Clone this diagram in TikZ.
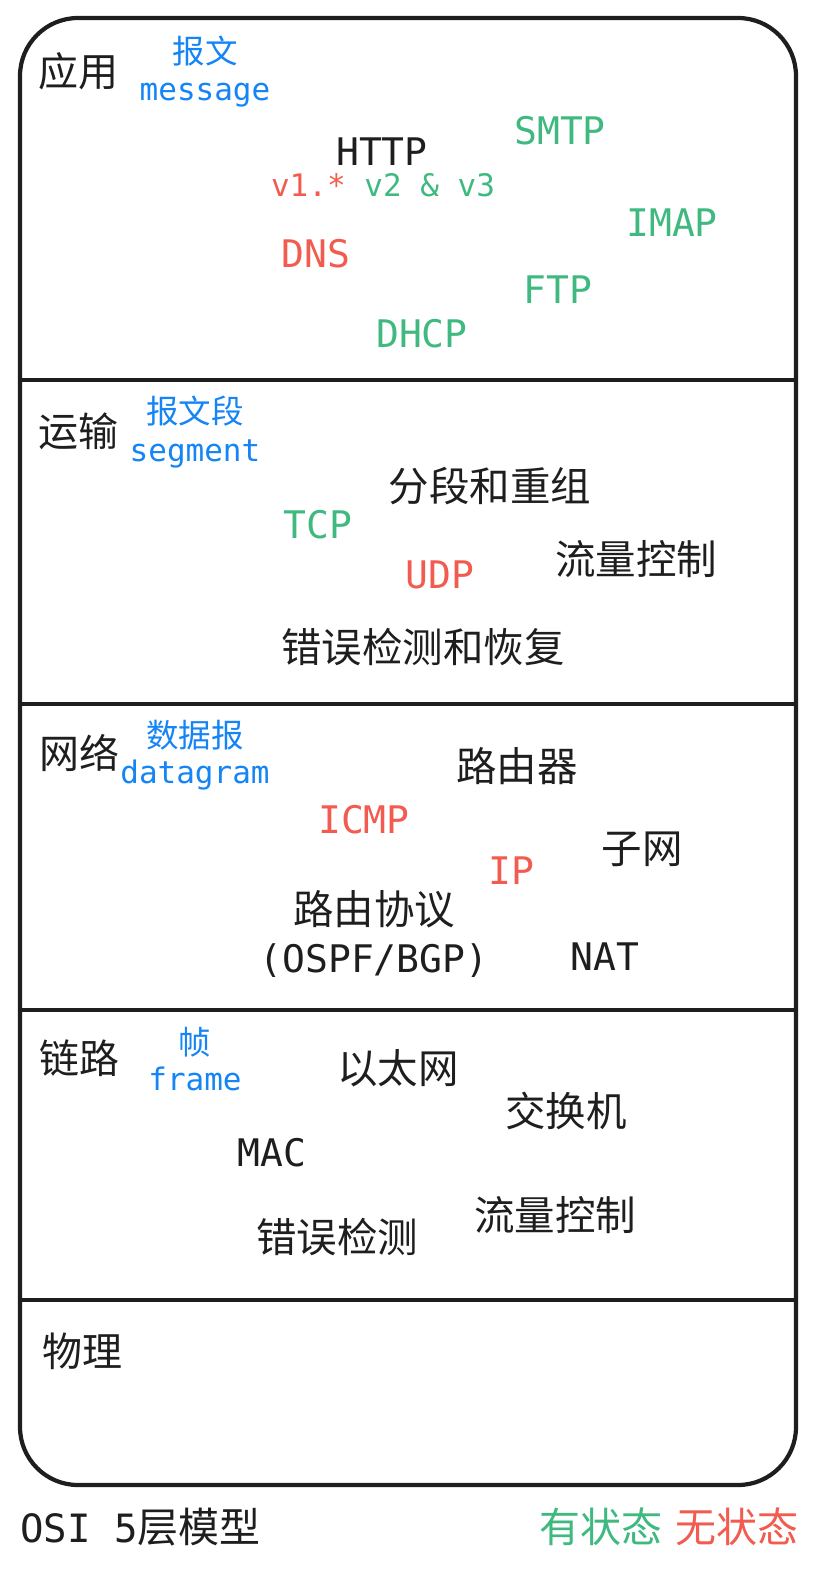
\documentclass[tikz,border=0pt]{standalone}
\usepackage{fontspec}
\setmainfont{Noto Sans CJK SC}
\setmonofont{DejaVu Sans Mono}
\usepackage{xcolor}
\definecolor{inkblack}{HTML}{1E1E1E}
\definecolor{tagblue}{HTML}{1584F5}
\definecolor{fulgreen}{HTML}{3FB97F}
\definecolor{lessred}{HTML}{F25B4F}
\newcommand{\fsz}[1]{\fontsize{#1}{#1}\selectfont}

\begin{document}
\begin{tikzpicture}[x=1pt,y=-1pt,
  every node/.style={inner sep=0pt,text depth=0pt},
  big/.style={text height=28.5pt},
  small/.style={text height=23.25pt},
  layer/.style={text height=30pt,font=\fsz{40},text=inkblack},
  unitcn/.style={text height=24.4pt,font=\fsz{32.5},text=tagblue},
  uniten/.style={small,font=\ttfamily\fsz{31},text=tagblue},
  word/.style={text height=30.5pt,font=\fsz{40.5},text=inkblack},
  proto/.style={big,font=\ttfamily\fsz{38},text=inkblack},
  stful/.style={big,font=\ttfamily\fsz{38},text=fulgreen},
  stless/.style={big,font=\ttfamily\fsz{38},text=lessred},
  key/.style={text height=30.75pt,font=\fsz{41}},
  frame/.style={draw=inkblack,line width=4.2pt}]
  \useasboundingbox (0,0) rectangle (820,1575);
  % stack outline and layer borders
  \draw[frame,rounded corners=58pt] (20,18) rectangle (796,1485);
  \foreach \y in {380,704,1010,1300}
    \draw[frame] (20,\y) -- (796,\y);

  % application
  \node[layer] (app) at (78,71) {应用};
  \node[unitcn] (appcn) at (205,51) {报文};
  \node[uniten] (appen) at (205,89) {message};
  \node[proto] (http) at (382,151) {HTTP};
  \node[small,font=\ttfamily\fsz{31}] (httpver) at (383,185)
    {{\color{lessred}v1.*}~{\color{fulgreen}v2 \& v3}};
  \node[stful] (smtp) at (560,130) {SMTP};
  \node[stful] (imap) at (672,222) {IMAP};
  \node[stless] (dns) at (316,253) {DNS};
  \node[stful] (ftp) at (558,289) {FTP};
  \node[stful] (dhcp) at (422,333) {DHCP};

  % transport
  \node[layer] (trans) at (78,431) {运输};
  \node[unitcn] (transcn) at (195,411) {报文段};
  \node[uniten] (transen) at (195,450) {segment};
  \node[word] (segm) at (490,486) {分段和重组};
  \node[stful] (tcp) at (318,524) {TCP};
  \node[stless] (udp) at (440,574) {UDP};
  \node[word] (flowt) at (636,559) {流量控制};
  \node[word] (errt) at (423,647) {错误检测和恢复};

  % network
  \node[layer] (net) at (79,753) {网络};
  \node[unitcn] (netcn) at (195,735) {数据报};
  \node[uniten] (neten) at (195,772) {datagram};
  \node[word] (router) at (517,766) {路由器};
  \node[stless] (icmp) at (364,819) {ICMP};
  \node[word] (subnet) at (642,848) {子网};
  \node[stless] (ip) at (511,870) {IP};
  \node[word] (routing) at (374,909) {路由协议};
  \node[proto] (ospf) at (374,958) {(OSPF/BGP)};
  \node[proto] (nat) at (605,956) {NAT};

  % link
  \node[layer] (link) at (79,1058) {链路};
  \node[unitcn] (linkcn) at (195,1042) {帧};
  \node[uniten] (linken) at (195,1079) {frame};
  \node[word] (ether) at (398,1068) {以太网};
  \node[word] (switch) at (566,1111) {交换机};
  \node[proto] (mac) at (272,1152) {MAC};
  \node[word] (flowl) at (555,1215) {流量控制};
  \node[word] (errl) at (337,1237) {错误检测};

  % physical
  \node[layer] (phys) at (82,1351) {物理};

  % footer
  \node[anchor=west,key,text=inkblack] (title)
    at (20,1527) {{\ttfamily\fsz{39}OSI 5}层模型};
  \node[key,text=fulgreen] (keyful) at (601,1527) {有状态};
  \node[key,text=lessred] (keyless) at (737,1527) {无状态};
\end{tikzpicture}
\end{document}
